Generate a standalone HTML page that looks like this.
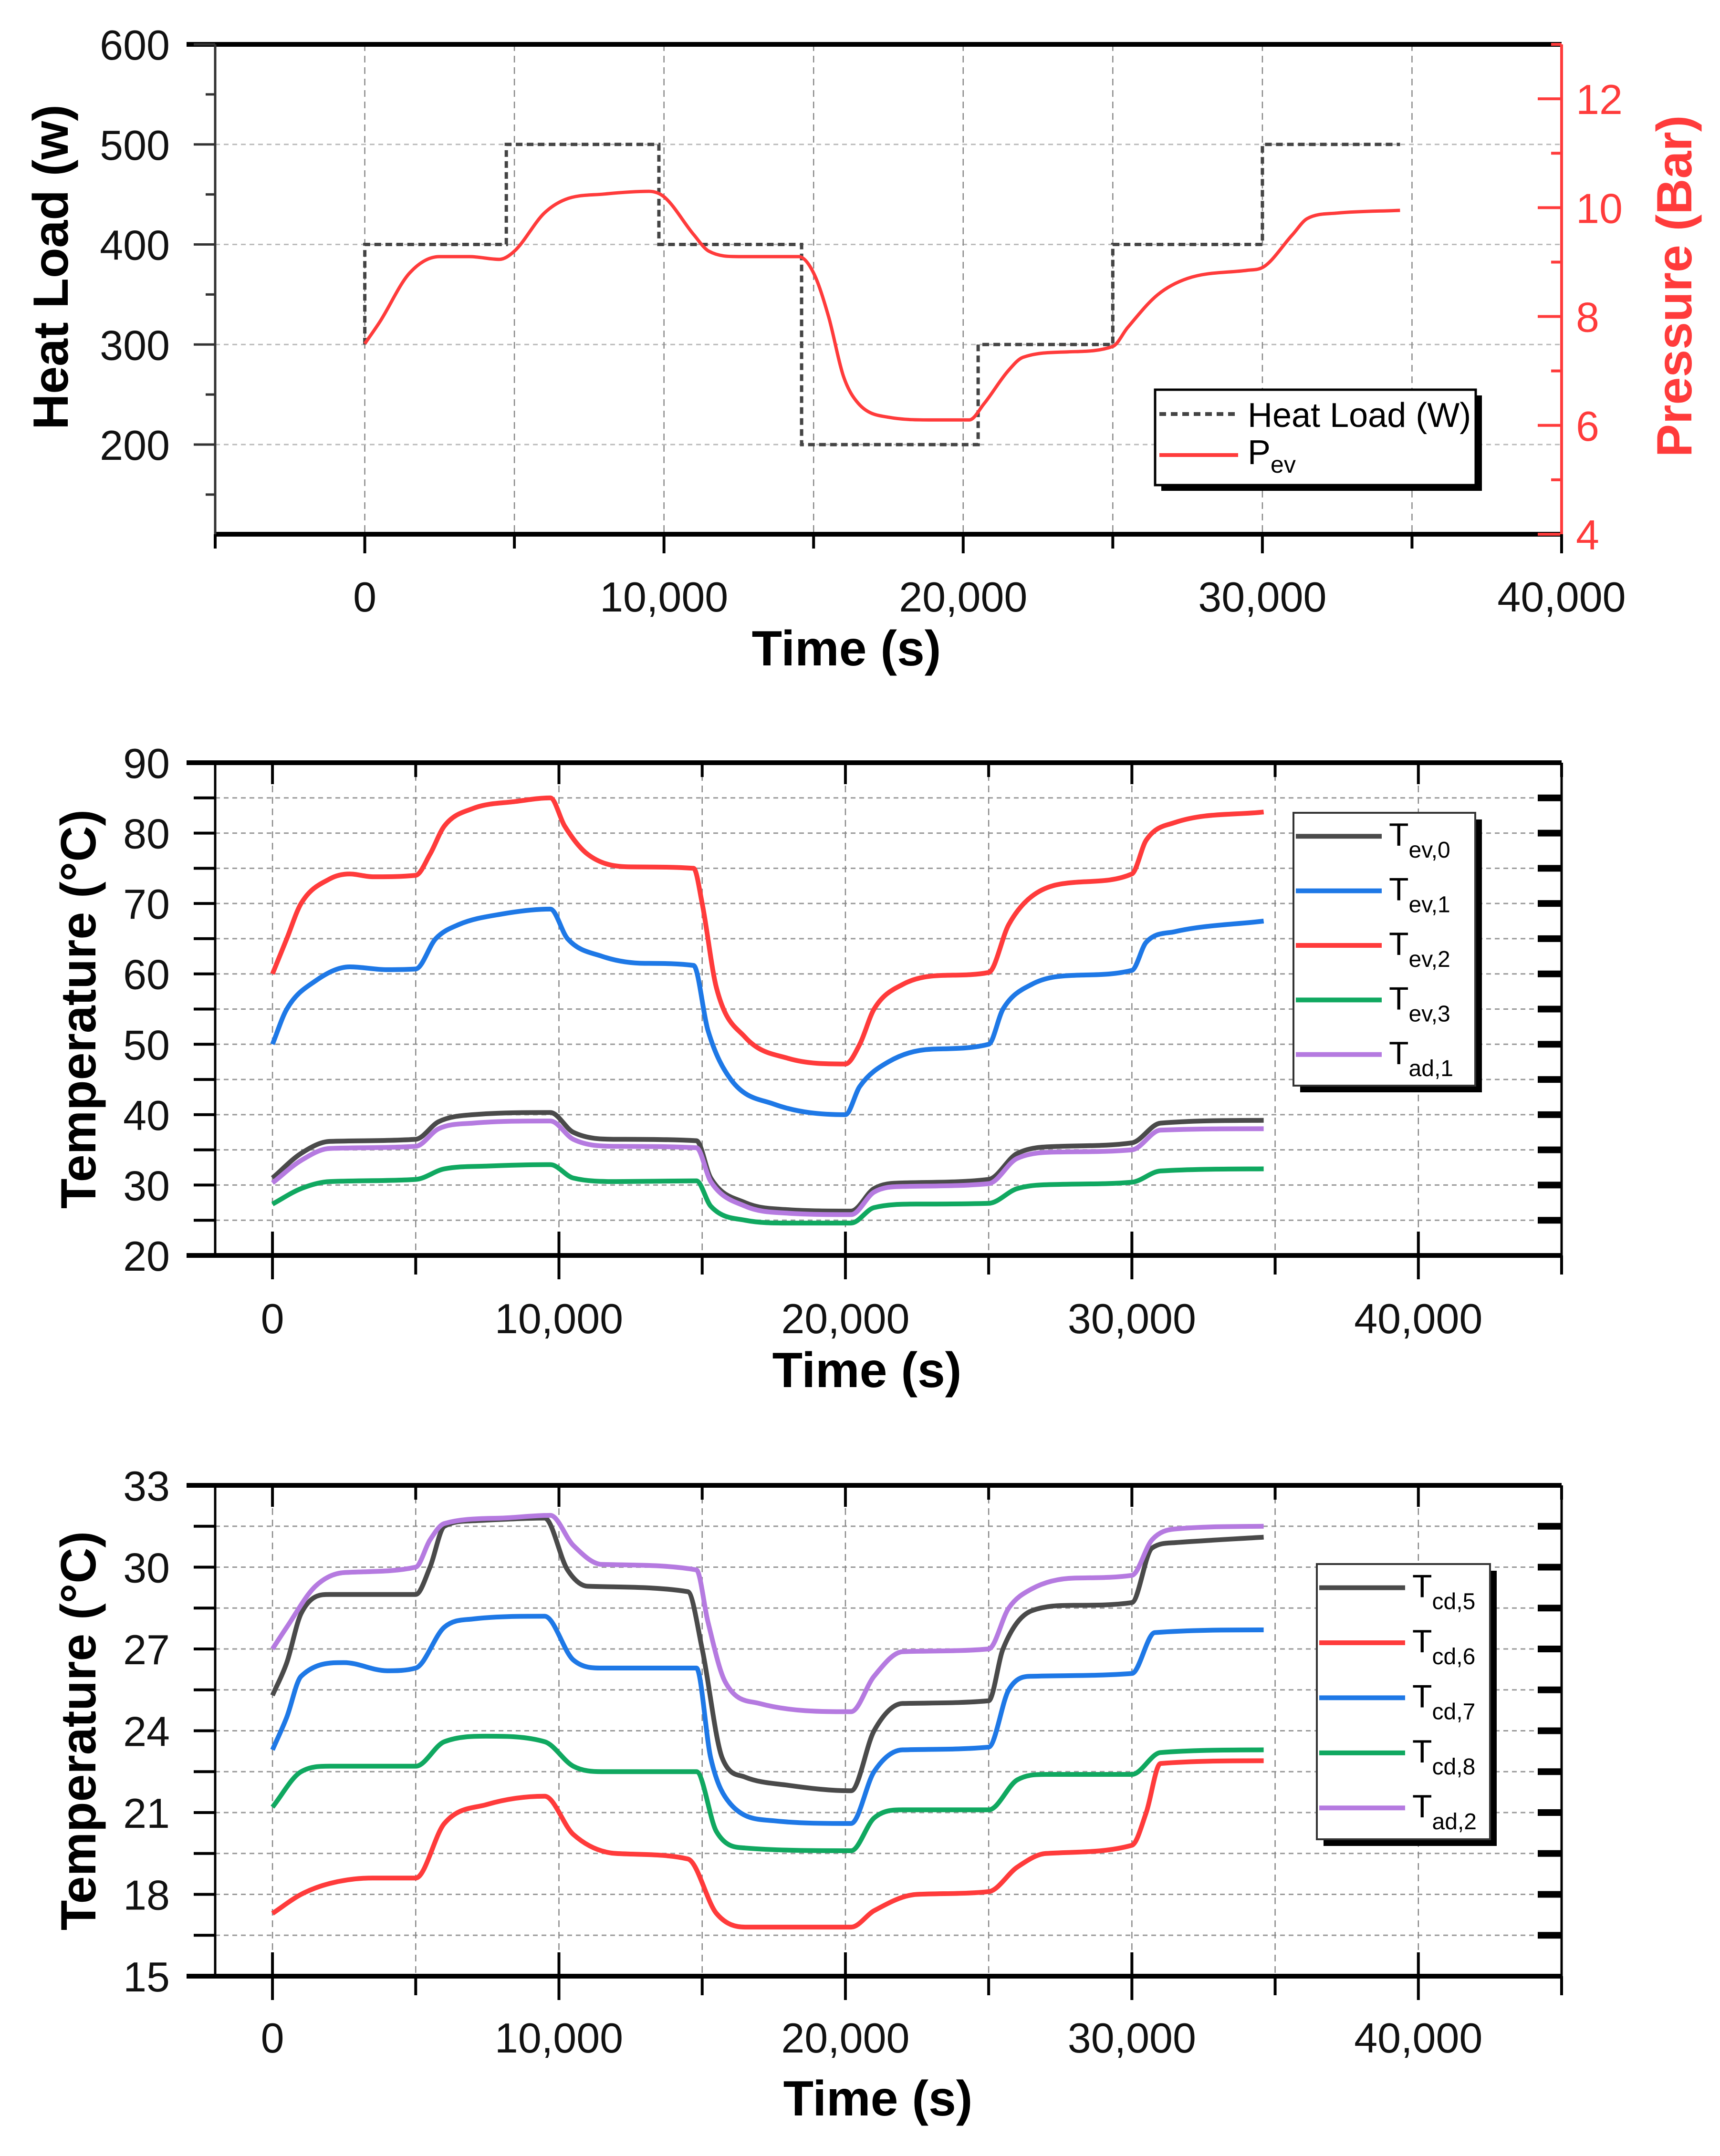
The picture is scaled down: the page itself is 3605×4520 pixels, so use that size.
<!DOCTYPE html>
<html><head><meta charset="utf-8"><style>
html,body{margin:0;padding:0;background:#fff;}
svg{display:block;font-family:"Liberation Sans",Arial,sans-serif;}
</style></head><body>
<svg id="c" width="3605" height="4520" viewBox="0 0 3605 4520" xmlns="http://www.w3.org/2000/svg"></svg>
<script>
// ---------- Panel 1 data ----------
const hlTime=[0,0,4.73,4.73,9.83,9.83,14.6,14.6,20.5,20.5,25.0,25.0,30.0,30.0,34.6];
const hlValue=[300,400,400,500,500,400,400,200,200,300,300,400,400,500,500];
const pTime=[0,0.5,1.5,2.5,3.5,4.5,5,6,6.7,8,9.5,10,11,11.5,12.5,14.5,15,15.5,16,16.5,17.5,19,20.2,20.7,21.5,22,23.5,25,25.5,26.5,27.5,29.5,30,31,31.5,32.5,34.6];
const pValue=[7.5,7.9,8.8,9.1,9.1,9.05,9.2,9.9,10.15,10.25,10.3,10.2,9.5,9.2,9.1,9.1,8.8,8.0,6.9,6.4,6.15,6.1,6.1,6.4,7.0,7.25,7.35,7.45,7.8,8.4,8.7,8.85,8.9,9.5,9.8,9.9,9.95];
const p1LeftTicks=[200,300,400,500,600];
const p1RightTicks=[4,6,8,10,12];
const xTickLabels=["0","10,000","20,000","30,000","40,000"];
const xTickValues=[0,10,20,30,40];
// ---------- Panel 2 data ----------
const p2Names=["ev,0","ev,1","ev,2","ev,3","ad,1"];
const tev0T=[0,1,2,5,5.8,7,9.7,10.5,12,14.8,15.3,16.5,18,20.2,21,22,25,26,27.5,30,31,34.6];
const tev0V=[31,34.5,36.2,36.5,39,40,40.3,37.5,36.5,36.3,31,27.5,26.5,26.3,29.5,30.3,30.8,34.5,35.5,36,38.8,39.2];
const tev1T=[0,0.5,1.5,2.7,4,5,5.7,6.5,8,9.7,10.3,11.5,13,14.7,15.2,16,17.5,20,20.5,21.5,23,25,25.5,26.5,28,30,30.5,31.5,34.6];
const tev1V=[50,55,59,61,60.6,60.7,65,67,68.5,69.2,65,62.5,61.5,61.2,52,45,41.5,40,44,47.5,49.3,50,55,58.5,59.8,60.5,64.5,66,67.5];
const tev2T=[0,0.5,1,2,2.7,3.5,5,5.5,6,7,8.5,9.7,10.2,11,12.5,14.7,15,15.5,16.5,18,20,20.5,21,22,23.5,25,25.7,26.5,28,30,30.5,31.5,34.6];
const tev2V=[60,65,70,73.5,74.2,73.8,74,77,81,83.5,84.5,85,81,77,75.2,75,70,58,51,48,47.2,50,55,58.5,59.8,60.2,67,71,73,74.2,79,81.5,83];
const tev3T=[0,1,2,5,6,7.5,9.7,10.5,12,14.8,15.3,16.5,18,20.2,21,22.5,25,26,27.5,30,31,34.6];
const tev3V=[27.3,29.5,30.5,30.8,32.3,32.7,32.9,31,30.5,30.6,27,25,24.6,24.6,26.8,27.3,27.4,29.5,30.1,30.4,32,32.3];
const tad1T=[0,1,2,5,5.8,7,9.7,10.5,12,14.8,15.3,16.5,18,20.2,21,22,25,26,27.5,30,31,34.6];
const tad1V=[30.3,33.5,35.2,35.5,38,38.8,39.1,36.5,35.5,35.3,30.5,27,26,25.8,29,29.8,30.2,33.8,34.7,35,37.8,38];
const p2Ticks=[20,30,40,50,60,70,80,90];
// ---------- Panel 3 data ----------
const p3Names=["cd,5","cd,6","cd,7","cd,8","ad,2"];
const tcd5T=[0,0.5,1,2,5,5.5,6,7,9.5,10.3,11,14.5,15,15.7,16.5,18,20.2,21,22,25,25.5,26.5,28,30,30.7,31.5,34.6];
const tcd5V=[25.3,26.5,28.3,29,29,30,31.5,31.7,31.8,29.9,29.3,29.1,27,23,22.3,22,21.8,24,25,25.1,27,28.4,28.6,28.7,30.7,30.9,31.1];
const tcd6T=[0,1,2,3.5,5,6,7.5,9.5,10.5,12,14.5,15.5,16.5,20.2,21,22.5,25,26,27,30,30.5,31,34.6];
const tcd6V=[17.3,18,18.4,18.6,18.6,20.6,21.3,21.6,20.2,19.5,19.3,17.3,16.8,16.8,17.4,18,18.1,19,19.5,19.8,21,22.8,22.9];
const tcd7T=[0,0.5,1,2.5,4,5,6,7,9.5,10.5,11.5,14.8,15.3,16,17.5,20.2,21,22,25,25.7,26.5,30,30.8,34.6];
const tcd7V=[23.3,24.5,26,26.5,26.2,26.3,27.8,28.1,28.2,26.6,26.3,26.3,23,21.3,20.7,20.6,22.5,23.3,23.4,25.5,26,26.1,27.6,27.7];
const tcd8T=[0,1,2,5,6,7.5,9.5,10.5,11.5,14.8,15.5,16.5,20.2,21,22,25,26,27,30,31,34.6];
const tcd8V=[21.2,22.5,22.7,22.7,23.6,23.8,23.6,22.7,22.5,22.5,20.3,19.7,19.6,20.8,21.1,21.1,22.2,22.4,22.4,23.2,23.3];
const tad2T=[0,0.5,1.5,2.5,5,5.5,6,8,9.7,10.5,11.5,14.8,15.2,15.8,17,20.2,21,22,25,25.7,26.5,28,30,30.7,31.5,34.6];
const tad2V=[27,27.8,29.3,29.8,30,31,31.6,31.8,31.9,30.8,30.1,29.9,28,25.8,25,24.7,26,26.9,27,28.5,29.2,29.6,29.7,31,31.4,31.5];
const p3Ticks=[15,18,21,24,27,30,33];

const NS="http://www.w3.org/2000/svg";
const svg=document.getElementById('c');
function mk(tag,attrs,parent){const e=document.createElementNS(NS,tag);for(const k in attrs)e.setAttribute(k,attrs[k]);(parent||svg).appendChild(e);return e;}
function lin(d0,d1,r0,r1){return v=>r0+(v-d0)*(r1-r0)/(d1-d0);}
function poly(xs,ys,sx,sy){return xs.map((t,i)=>sx(t).toFixed(1)+","+sy(ys[i]).toFixed(1)).join(" ");}
// monotone cubic path
function smooth(xs,ys,sx,sy){
 const X=xs.map(sx),Y=ys.map(sy),n=X.length;
 const d=[],m=[];
 for(let i=0;i<n-1;i++)d.push((Y[i+1]-Y[i])/(X[i+1]-X[i]||1e-6));
 m[0]=d[0];m[n-1]=d[n-2];
 for(let i=1;i<n-1;i++){m[i]=(d[i-1]*d[i]<=0)?0:(d[i-1]+d[i])/2;}
 for(let i=0;i<n-1;i++){if(d[i]===0){m[i]=0;m[i+1]=0;continue;}const a=m[i]/d[i],b=m[i+1]/d[i],s=a*a+b*b;if(s>9){const t=3/Math.sqrt(s);m[i]=t*a*d[i];m[i+1]=t*b*d[i];}}
 let p="M"+X[0].toFixed(1)+","+Y[0].toFixed(1);
 for(let i=0;i<n-1;i++){const h=(X[i+1]-X[i])/3;p+=" C"+(X[i]+h).toFixed(1)+","+(Y[i]+m[i]*h).toFixed(1)+" "+(X[i+1]-h).toFixed(1)+","+(Y[i+1]-m[i+1]*h).toFixed(1)+" "+X[i+1].toFixed(1)+","+Y[i+1].toFixed(1);}
 return p;}

// ======== PANEL 1 ========
{
const L=451,R=3273,T=93,B=1120;
const sx=lin(-5,40,L,R), sy=lin(110.4,600,B,T), sy2=lin(4,13,B,T);
const g=mk('g',{});

for(const v of [200,300,400,500]){const l=mk('line',{x1:L,x2:R,y1:sy(v),y2:sy(v),stroke:'#bbb','stroke-width':3,'stroke-dasharray':'10,8'},g);}
for(let t=0;t<=35;t+=5){const l=mk('line',{x1:sx(t),x2:sx(t),y1:T,y2:B,stroke:'#888','stroke-width':2.5,'stroke-dasharray':'14,10'},g);}
mk('line',{x1:L-60,x2:R,y1:T,y2:T,stroke:'#000','stroke-width':10},g);
mk('line',{x1:L,x2:R,y1:B,y2:B,stroke:'#000','stroke-width':10},g);
mk('line',{x1:L,x2:L,y1:T,y2:B,stroke:'#333','stroke-width':5},g);
mk('line',{x1:R,x2:R,y1:T,y2:B,stroke:'#ff3b3b','stroke-width':6},g);
for(let v=150;v<=600;v+=50){const major=v%100===0;mk('line',{x1:L,x2:L+(major?-45:-20),y1:sy(v),y2:sy(v),stroke:'#333','stroke-width':5},g);}
for(const v of p1LeftTicks){const t=mk('text',{x:L-95,y:sy(v)+32,'font-size':88,'text-anchor':'end',fill:'#111'},g);t.textContent=v;}
for(let v=4;v<=13;v+=1){const major=v%2===0;mk('line',{x1:R,x2:R-(major?50:22),y1:sy2(v),y2:sy2(v),stroke:'#ff3b3b','stroke-width':6},g);}
for(const v of p1RightTicks){const t=mk('text',{x:R+30,y:sy2(v)+32,'font-size':88,fill:'#ff3b3b'},g);t.textContent=v;}
for(let t=-5;t<=40;t+=5){mk('line',{x1:sx(t),x2:sx(t),y1:B,y2:B+(t%10===0?40:30),stroke:'#000','stroke-width':6},g);}
xTickValues.forEach((v,i)=>{const t=mk('text',{x:sx(v),y:1282,'font-size':88,'text-anchor':'middle',fill:'#111'},g);t.textContent=xTickLabels[i];});
let t1=mk('text',{x:1774,y:1395,'font-size':104,'font-weight':'bold','text-anchor':'middle',fill:'#000'},g);t1.textContent='Time (s)';
let t2=mk('text',{x:0,y:0,'font-size':104,'font-weight':'bold','text-anchor':'middle',fill:'#000',transform:'translate(142,560) rotate(-90)'},g);t2.textContent='Heat Load (w)';
let t3=mk('text',{x:0,y:0,'font-size':104,'font-weight':'bold','text-anchor':'middle',fill:'#ff3b3b',transform:'translate(3545,600) rotate(-90)'},g);t3.textContent='Pressure (Bar)';
let s1=mk('polyline',{points:poly(hlTime,hlValue,sx,sy),fill:'none',stroke:'#444','stroke-width':7,'stroke-dasharray':'14,9'},g);
let s2=mk('path',{d:smooth(pTime,pValue,sx,sy2),fill:'none',stroke:'#ff3b3b','stroke-width':7,'stroke-linejoin':'round'},g);
const lg=mk('g',{},g);
mk('rect',{x:2434,y:829,width:672,height:200,fill:'#000'},lg);
mk('rect',{x:2421,y:817,width:672,height:200,fill:'#fff',stroke:'#000','stroke-width':5},lg);
mk('line',{x1:2430,x2:2595,y1:868,y2:868,stroke:'#444','stroke-width':8,'stroke-dasharray':'14,10'},lg);
let a=mk('text',{x:2615,y:895,'font-size':72,fill:'#000'},lg);a.textContent='Heat Load (W)';
mk('line',{x1:2430,x2:2595,y1:954,y2:954,stroke:'#ff3b3b','stroke-width':8},lg);
let b=mk('text',{x:2615,y:973,'font-size':72,fill:'#000'},lg);b.innerHTML='P<tspan dy="18" font-size="50">ev</tspan>';
}

// ======== Generic temperature panel ========
function tPanel(name,T,B,ymin,ymax,ticks,gridStep,series,names,legend,ttlX,ttlY,xlblY){
const L=451,R=3273;
const sx=lin(-2,45,L,R), sy=lin(ymin,ymax,B,T);
const g=mk('g',{});

for(let v=ymin+gridStep;v<ymax-0.01;v+=gridStep){const l=mk('line',{x1:L,x2:R,y1:sy(v),y2:sy(v),stroke:'#999','stroke-width':3,'stroke-dasharray':'10,8'},g);}
for(let t=0;t<=40;t+=5){const l=mk('line',{x1:sx(t),x2:sx(t),y1:T,y2:B,stroke:'#888','stroke-width':2.5,'stroke-dasharray':'14,10'},g);}
mk('line',{x1:L-60,x2:R,y1:T,y2:T,stroke:'#000','stroke-width':10},g);
mk('line',{x1:L-60,x2:R,y1:B,y2:B,stroke:'#000','stroke-width':10},g);
mk('line',{x1:L,x2:L,y1:T,y2:B,stroke:'#000','stroke-width':5},g);
mk('line',{x1:R,x2:R,y1:T,y2:B+30,stroke:'#000','stroke-width':5},g);
for(let v=ymin+gridStep;v<ymax-0.01;v+=gridStep){mk('line',{x1:R,x2:R-50,y1:sy(v),y2:sy(v),stroke:'#000','stroke-width':14},g);mk('line',{x1:L,x2:L-45,y1:sy(v),y2:sy(v),stroke:'#000','stroke-width':6},g);}
for(const v of ticks){const t=mk('text',{x:L-95,y:sy(v)+32,'font-size':88,'text-anchor':'end',fill:'#111'},g);t.textContent=v;}
for(let t=0;t<=45;t+=5){mk('line',{x1:sx(t),x2:sx(t),y1:B-(t%10===0?50:0),y2:B+(t%10===0?50:40),stroke:'#000','stroke-width':6},g);mk('line',{x1:sx(t),x2:sx(t),y1:T,y2:T+(t%10===0?45:30),stroke:'#000','stroke-width':6},g);}
xTickValues.forEach((v,i)=>{const t=mk('text',{x:sx(v),y:xlblY,'font-size':88,'text-anchor':'middle',fill:'#111'},g);t.textContent=xTickLabels[i];});
let xt=mk('text',{x:ttlX,y:ttlY,'font-size':104,'font-weight':'bold','text-anchor':'middle',fill:'#000'},g);xt.textContent='Time (s)';
let yt=mk('text',{x:0,y:0,'font-size':104,'font-weight':'bold','text-anchor':'middle',fill:'#000',transform:'translate(200,'+((T+B)/2)+') rotate(-90)'},g);yt.textContent='Temperature (°C)';
series.forEach(s=>{const p=mk('path',{d:smooth(s[0],s[1],sx,sy),fill:'none',stroke:s[2],'stroke-width':10,'stroke-linejoin':'round'},g);});
const [lx,ly,lw,lh]=legend;
const lg=mk('g',{},g);
mk('rect',{x:lx+14,y:ly+14,width:lw,height:lh,fill:'#000'},lg);
mk('rect',{x:lx,y:ly,width:lw,height:lh,fill:'#fff',stroke:'#333','stroke-width':4},lg);
const step=lh/5;
series.forEach((s,i)=>{const cy=ly+step*(i+0.43);mk('line',{x1:lx+5,x2:lx+185,y1:cy,y2:cy,stroke:s[2],'stroke-width':10},lg);
const t=mk('text',{x:lx+200,y:cy+20,'font-size':68,fill:'#000'},lg);t.innerHTML='T<tspan dy="25" font-size="48">'+names[i]+'</tspan>';});
}
tPanel('evaporator-temperature-panel',1599,2632,20,90,p2Ticks,5,
 [[tev0T,tev0V,'#4a4a4a'],[tev1T,tev1V,'#1e78e6'],[tev2T,tev2V,'#ff3b3b'],[tev3T,tev3V,'#10a860'],[tad1T,tad1V,'#b57ae0']],
 p2Names,[2711,1704,381,572],1817,2908,2795);
tPanel('condenser-temperature-panel',3114,4143,15,33,p3Ticks,1.5,
 [[tcd5T,tcd5V,'#4a4a4a'],[tcd6T,tcd6V,'#ff3b3b'],[tcd7T,tcd7V,'#1e78e6'],[tcd8T,tcd8V,'#10a860'],[tad2T,tad2V,'#b57ae0']],
 p3Names,[2760,3279,363,577],1840,4435,4303);
</script>
</body></html>
